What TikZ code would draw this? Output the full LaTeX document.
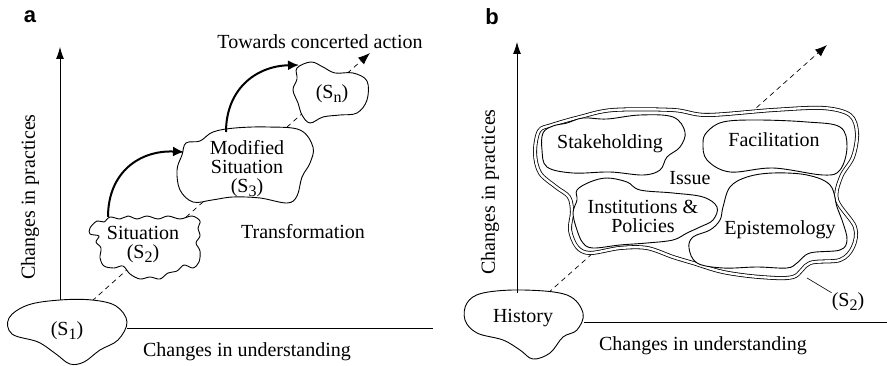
\documentclass[tikz,border=0pt]{standalone}
\usepackage{fontspec}
\setmainfont{Liberation Serif}
\newfontfamily\panelfont{Liberation Sans}
\usetikzlibrary{arrows.meta}
\newcommand{\sbs}[1]{\raisebox{-0.35ex}{\fontsize{16}{16}\selectfont #1}}
\begin{document}
\begin{tikzpicture}[x=1pt,y=-1pt,
  every node/.style={font=\rmfamily\fontsize{20}{19}\selectfont, align=center, inner sep=0pt},
  blob/.style={draw, line width=0.9pt, fill=white},
  issueblob/.style={draw, line width=0.8pt, double=white, double distance=2.4pt, fill=white},
  axis/.style={line width=0.8pt, -{Latex[length=12pt,width=8pt]}},
  axisline/.style={line width=0.8pt},
  dashline/.style={line width=0.7pt, dash pattern=on 5pt off 4pt, -{Latex[length=12pt,width=9pt]}},
  stepcurve/.style={line width=2pt, -{Latex[length=11pt,width=10pt]}},
  panel/.style={font=\panelfont\bfseries\fontsize{22}{22}\selectfont}]
\useasboundingbox (0,0) rectangle (887,366);

% ---------------- panel a ----------------
\node[panel] (la) at (30,17) {a};

\coordinate (a-dstart) at (92,301);
\coordinate (a-dend) at (370,53);
\draw[dashline] (a-dstart) -- (a-dend);

% S1
\draw[blob] plot[smooth cycle, tension=0.6] coordinates {
  (9,318) (28,305) (60,300) (92,300) (116,306) (127,322) (118,340) (100,350)
  (84,362) (70,364) (56,354) (38,342) (12,334)};
\node (s1) at (67,331) {(S\sbs{1})};

% S2 (wavy)
\draw[blob] plot[smooth cycle, tension=0.55] coordinates {
  (90,228) (97,221) (104,222) (110,217) (120,219) (128,216) (137,219) (147,216)
  (158,219) (168,216) (180,219) (192,216) (200,221) (198,228) (200,236) (196,243)
  (200,251) (199,262) (193,268) (184,265) (177,271) (168,273) (160,279) (150,277)
  (140,279) (130,274) (123,266) (114,268) (104,266) (100,258) (101,248) (96,242)
  (99,236) (90,234)};
\node (s2) at (143,245) {Situation\\(S\sbs{2})};

% S3
\draw[blob] plot[smooth cycle, tension=0.6] coordinates {
  (186,143) (200,141) (213,132) (235,128) (268,127) (300,130) (313,147) (310,163)
  (302,177) (297,196) (287,203) (260,198) (233,197) (212,200) (193,202) (180,190)
  (177,170) (182,155)};
\node (s3) at (247,169) {Modified\\Situation\\(S\sbs{3})};

% Sn
\draw[blob] plot[smooth cycle, tension=0.6] coordinates {
  (297,68) (311,62) (323,67) (335,73) (353,73) (367,81) (367,100) (357,113)
  (340,115) (323,117) (310,123) (302,115) (298,103) (293,90) (297,79)};
\node (sn) at (332,94) {(S\sbs{n})};

% thick transition arrows
\coordinate (c1a) at (108,217);
\coordinate (c1b) at (184,152);
\draw[stepcurve] (c1a) .. controls (108,172) and (140,150) .. (c1b);
\coordinate (c2a) at (226,132);
\coordinate (c2b) at (299,65);
\draw[stepcurve] (c2a) .. controls (226,90) and (255,66) .. (c2b);

% axes
\coordinate (a-y0) at (60,300);
\coordinate (a-y1) at (60,47);
\draw[axis] (a-y0) -- (a-y1);
\coordinate (a-x0) at (127,328);
\coordinate (a-x1) at (433,328);
\draw[axisline] (a-x0) -- (a-x1);

\node (tca) at (320,42) {Towards concerted action};
\node (tra) at (303,232) {Transformation};
\node[rotate=90] (cpa) at (30,197) {Changes in practices};
\node (cua) at (247,352) {Changes in understanding};

% ---------------- panel b ----------------
\node[panel] (lb) at (492,17) {b};

\coordinate (b-dstart) at (548,293);
\coordinate (b-dend) at (827,45);
\draw[dashline] (b-dstart) -- (b-dend);

% Issue (double outline)
\draw[issueblob] plot[smooth cycle, tension=0.55] coordinates {
  (539,131) (552,125) (580,117) (613,110) (673,110) (707,115) (773,110) (823,108)
  (850,115) (857,133) (853,157) (841,177) (837,200) (855,227) (853,247) (840,260)
  (810,263) (793,277) (760,277) (723,272) (693,263) (673,257) (647,248) (620,248)
  (590,253) (577,247) (570,230) (572,212) (569,197) (556,187) (540,173) (535,153)};

% Stakeholding
\draw[blob] plot[smooth cycle, tension=0.6] coordinates {
  (543,133) (553,126) (567,123) (583,118) (607,119) (640,115) (673,117) (685,132)
  (680,147) (667,157) (660,170) (643,175) (610,172) (573,173) (547,167) (542,150)};
\node (stk) at (610,144) {Stakeholding};

% Facilitation
\draw[blob] plot[smooth cycle, tension=0.6] coordinates {
  (707,132) (723,122) (757,120) (807,122) (840,127) (847,147) (840,170) (823,175)
  (773,168) (730,172) (707,160) (703,143)};
\node (fac) at (774,140) {Facilitation};

% Institutions & Policies
\draw[blob] plot[smooth cycle, tension=0.6] coordinates {
  (577,190) (590,182) (607,178) (627,182) (640,190) (673,193) (703,197) (717,207)
  (713,220) (700,227) (687,233) (673,240) (647,243) (620,245) (593,248) (583,243)
  (577,230) (573,213) (577,200)};
\node (ins) at (643,216) {Institutions \&\\Policies};

% Epistemology
\draw[blob] plot[smooth cycle, tension=0.6] coordinates {
  (723,207) (730,187) (747,177) (773,173) (807,175) (830,185) (837,207) (843,223)
  (847,240) (840,250) (810,253) (797,263) (787,268) (757,267) (723,268) (697,263)
  (689,248) (693,237) (710,230) (720,220)};
\node (epi) at (780,230) {Epistemology};

\node (iss) at (690,178) {Issue};

% History
\draw[blob] plot[smooth cycle, tension=0.6] coordinates {
  (467,303) (483,293) (523,290) (567,295) (583,313) (577,330) (563,337) (550,353)
  (533,359) (520,350) (503,340) (477,333) (465,320)};
\node (his) at (523,318) {History};

% S2 pointer
\node (s2b) at (848,302) {(S\sbs{2})};
\coordinate (s2p) at (807,278);
\draw[line width=0.6pt] (s2p) -- (s2b.north west);

% axes
\coordinate (b-y0) at (517,293);
\coordinate (b-y1) at (517,42);
\draw[axis] (b-y0) -- (b-y1);
\coordinate (b-x0) at (584,322);
\coordinate (b-x1) at (887,322);
\draw[axisline] (b-x0) -- (b-x1);

\node[rotate=90] (cpb) at (490,192) {Changes in practices};
\node (cub) at (703,346) {Changes in understanding};
\end{tikzpicture}
\end{document}
